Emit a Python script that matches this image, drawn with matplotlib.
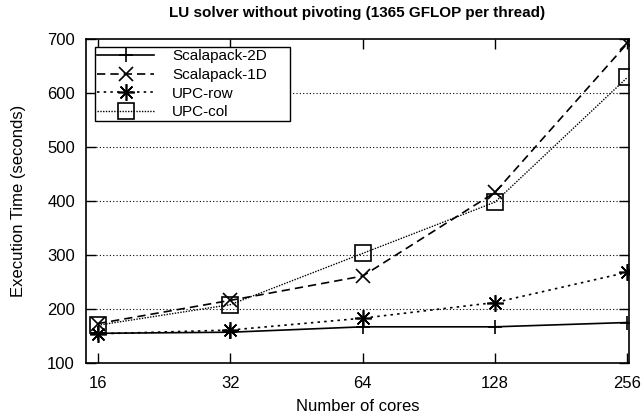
import matplotlib
matplotlib.use("Agg")
import matplotlib.pyplot as plt
from matplotlib.ticker import FixedLocator, NullLocator

plt.rcParams['font.family'] = ['Liberation Sans', 'DejaVu Sans']

cores = [16, 32, 64, 128, 256]
scalapack_2d = [155, 157, 167, 167, 175]
scalapack_1d = [173, 216, 261, 416, 692]
upc_row = [154, 161, 183, 212, 268]
upc_col = [170, 208, 303, 398, 629]

fig = plt.figure(figsize=(6.43, 4.2), dpi=100)
ax = fig.add_axes([86/643, 1 - 363/420, (629-86)/643, (363-39)/420])

ax.set_xscale('log', base=2)
ax.plot(cores, scalapack_2d, color='black', lw=1.2, ls='-', marker='+', ms=10, mew=1.2, label='Scalapack-2D')
ax.plot(cores, scalapack_1d, color='black', lw=1.2, ls=(0, (5, 3)), marker='x', ms=10, mew=1.2, label='Scalapack-1D')
ax.plot(cores, upc_row, color='black', lw=1.2, ls=(0, (1.5, 2.5)), marker=(8, 2, 0), ms=12, mew=1.2, label='UPC-row')
ax.plot(cores, upc_col, color='black', lw=1.0, ls=(0, (1, 1)), marker='s', ms=11, mew=1.2, mfc='none', mec='black', label='UPC-col')

ax.set_xlim(16 * 2 ** -0.09, 256 * 2 ** 0.012)
ax.set_ylim(100, 700)
ax.xaxis.set_major_locator(FixedLocator(cores))
ax.xaxis.set_minor_locator(NullLocator())
ax.set_xticklabels([str(c) for c in cores])
ax.set_yticks([100, 200, 300, 400, 500, 600, 700])
ax.tick_params(direction='in', top=True, right=True, length=7, width=1, labelsize=12)
ax.tick_params(axis='y', pad=8)
ax.tick_params(axis='x', pad=9)
for y in [200, 300, 400, 500, 600]:
    ax.axhline(y, color='black', lw=0.8, ls=(0, (1, 2)), zorder=0)
for s in ax.spines.values():
    s.set_linewidth(1.2)

ax.set_xlabel('Number of cores', fontsize=12, labelpad=6)
ax.set_ylabel('Execution Time (seconds)', fontsize=12, labelpad=15)
ax.set_title('LU solver without pivoting (1365 GFLOP per thread)', fontsize=11, fontweight='bold', pad=16)

leg = ax.legend(loc='upper left', bbox_to_anchor=(0.0166, 0.0, 0.359, 0.975), mode='expand',
                fontsize=11, frameon=True, fancybox=False,
                edgecolor='black', framealpha=1, handlelength=3.7, borderpad=0.15, labelspacing=0.3,
                handletextpad=1.2, borderaxespad=0.0)
leg.get_frame().set_linewidth(1.0)

fig.savefig('out.png', dpi=100)
